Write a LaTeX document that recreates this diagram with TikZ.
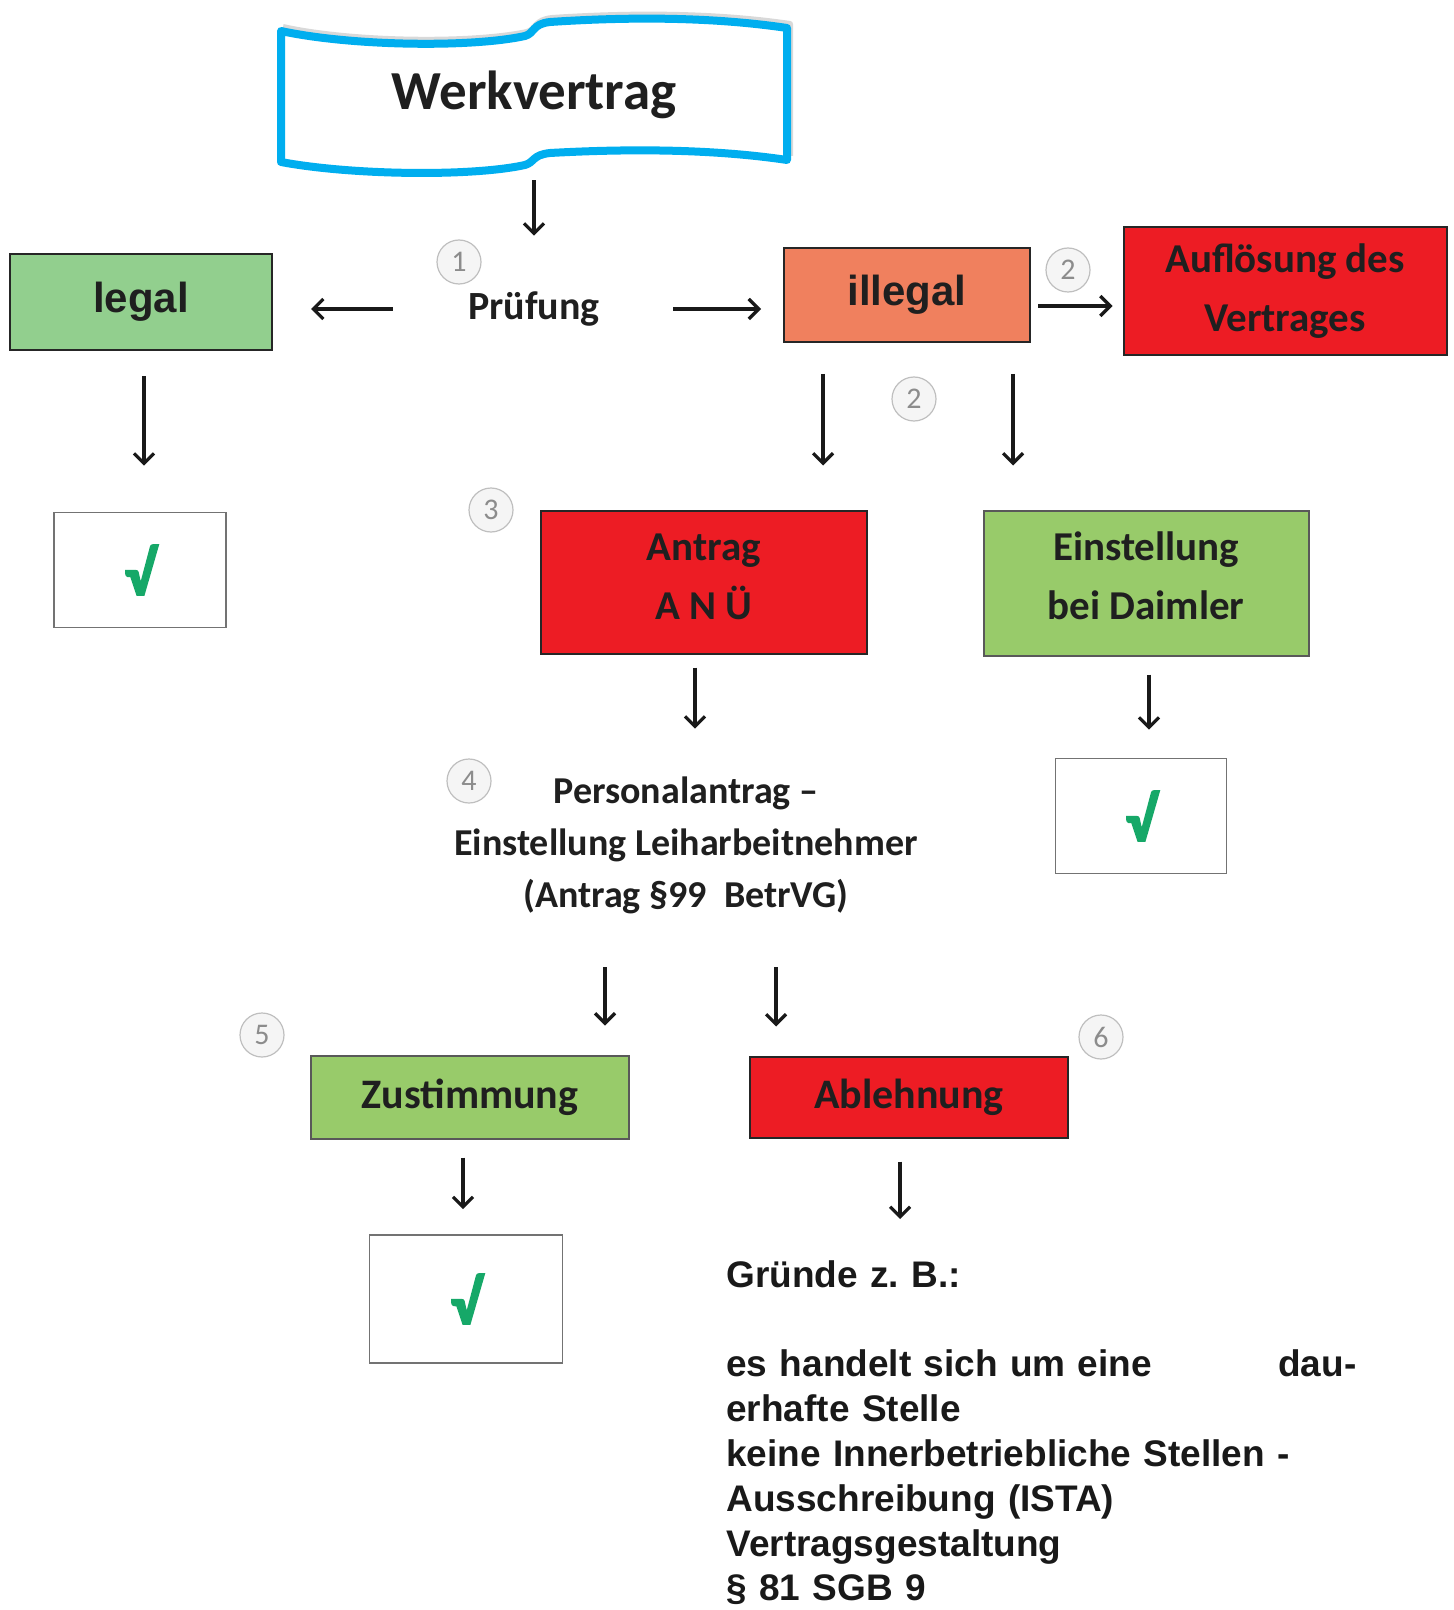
\documentclass[tikz,border=0pt]{standalone}
\usepackage{fontspec}
\setmainfont{Carlito}
\newfontfamily\arialfont{Liberation Sans}
\usepackage{tikz}
\usetikzlibrary{arrows,arrows.meta,calc,positioning}
\frenchspacing

\definecolor{werkblau}{RGB}{0,174,239}
\definecolor{hellgruen}{RGB}{146,207,142}
\definecolor{blattgruen}{RGB}{152,203,106}
\definecolor{lachs}{RGB}{240,128,94}
\definecolor{signalrot}{RGB}{237,28,36}
\definecolor{hakengruen}{RGB}{22,168,104}

\begin{document}
\begin{tikzpicture}[x=0.5pt, y=-0.5pt,
	kasten/.style={draw=black!85, line width=1pt, rectangle, inner sep=0pt, align=center, text=black!88},
	haken/.style={draw=black!55, line width=0.8pt, fill=white, inner sep=0pt, text=hakengruen, font=\bfseries\fontsize{31}{31}\selectfont\addfontfeature{FakeBold=3}},
	nummer/.style={circle, draw=black!25, fill=black!4, line width=0.6pt, minimum size=22pt, inner sep=0pt, text=black!45, font=\fontsize{15}{15}\selectfont},
	pfeil/.style={->, line width=1.6pt, black!90},
	>={Straight Barb[length=5pt,width=10pt]}]
	\useasboundingbox (0,0) rectangle (1454,1610);
	% Band
		\draw[black!15, line width=3pt, line join=round]
			(283,27) .. controls (350,42) and (470,44) .. (527,32)
			.. controls (537,29) and (534,20) .. (552,18)
			.. controls (642,12) and (722,14) .. (790,24) -- (790,156);
		\draw[werkblau, line width=4pt, line join=round, fill=white]
			(281,31) .. controls (350,46) and (470,48) .. (525,36)
			.. controls (535,33) and (532,24) .. (550,22)
			.. controls (640,16) and (720,18) .. (787,28)
			-- (787,160)
			.. controls (720,150) and (640,148) .. (550,153)
			.. controls (532,155) and (535,162) .. (525,165)
			.. controls (470,177) and (350,175) .. (281,162) -- cycle;
	% Knoten
		\node (werk) at (534,95) [minimum width=255pt, minimum height=70pt, text=black!88, font=\bfseries\fontsize{27.5}{27.5}\selectfont] {Werkvertrag};
		\node (pruef) at (534,309) [minimum width=90pt, minimum height=30pt, inner sep=0pt, text=black!88, font=\bfseries\fontsize{20}{20}\selectfont] {Prüfung};
		\node (legal) at (141,302) [kasten, fill=hellgruen, minimum width=131pt, minimum height=48pt, font=\arialfont\bfseries\fontsize{21}{21}\selectfont] {legal};
		\node (illegal) at (907,295) [kasten, fill=lachs, minimum width=123pt, minimum height=47pt, font=\arialfont\bfseries\fontsize{21}{21}\selectfont] {illegal};
		\node (aufl) at (1285,291) [kasten, fill=signalrot, minimum width=161.5pt, minimum height=64pt, font=\bfseries\fontsize{20.5}{29.5}\selectfont] {Auflösung des\\Vertrages};
		\node (ok1) at (140,570) [haken, minimum width=86pt, minimum height=57.5pt] {√};
		\node (antrag) at (704,582) [kasten, fill=signalrot, minimum width=163pt, minimum height=71.5pt, text depth=5pt, font=\bfseries\fontsize{20.5}{29.5}\selectfont] {Antrag\\A N Ü};
		\node (einst) at (1146,583) [kasten, draw=black!65, fill=blattgruen, minimum width=162.5pt, minimum height=72.5pt, text depth=7pt, font=\bfseries\fontsize{20.5}{29.5}\selectfont] {Einstellung\\bei Daimler};
		\node (ok2) at (1141,816) [haken, minimum width=85.5pt, minimum height=57.5pt] {√};
		\node (personal) at (686,845) [minimum width=240pt, minimum height=85pt, inner sep=0pt, align=center, text=black!88, font=\bfseries\fontsize{19}{26}\selectfont] {Personalantrag --\\Einstellung Leiharbeitnehmer\\(Antrag §99\ \ BetrVG)};
		\node (zust) at (470,1097) [kasten, draw=black!65, fill=blattgruen, minimum width=159pt, minimum height=41.5pt, font=\bfseries\fontsize{21}{21}\selectfont] {Zustimmung};
		\node (ableh) at (909,1097) [kasten, fill=signalrot, minimum width=159pt, minimum height=40.5pt, font=\bfseries\fontsize{21}{21}\selectfont] {Ablehnung};
		\node (ok3) at (466,1299) [haken, minimum width=96.5pt, minimum height=64pt] {√};
		\node (gruende) at (726,1260) [anchor=north west, text width=315pt, align=left, inner sep=0pt, text=black!90, font=\arialfont\bfseries\fontsize{18.5}{22.4}\selectfont] {Gründe z. B.:\\[22.4pt]
			es handelt sich um eine \hfill dau-\\
			erhafte Stelle\\
			keine Innerbetriebliche Stellen -\\
			Ausschreibung (ISTA)\\
			Vertragsgestaltung\\
			§ 81 SGB 9};
	% Nummern
		\node (n1) at (459,262) [nummer] {1};
		\node (n2a) at (1068,270) [nummer] {2};
		\node (n2b) at (914,399) [nummer] {2};
		\node (n3) at (491,510) [nummer] {3};
		\node (n4) at (469,781) [nummer] {4};
		\node (n5) at (262,1035) [nummer] {5};
		\node (n6) at (1101,1037) [nummer] {6};
	% Kanten
		\draw[pfeil, shorten <=7.5pt, shorten >=21.5pt] (werk.south) -- (pruef.north);
		\draw[pfeil, shorten <=25.5pt, shorten >=19pt] (pruef.west) -- (pruef.west -| legal.east);
		\draw[pfeil, shorten <=24.5pt, shorten >=11pt] (pruef.east) -- (pruef.east -| illegal.west);
		\draw[pfeil, shorten <=3.5pt, shorten >=5pt] ([yshift=-5.5pt]illegal.east) -- ([yshift=-5.5pt]illegal.east -| aufl.west);
		\draw[pfeil, shorten <=12.5pt, shorten >=23pt] ([xshift=1.5pt]legal.south) -- ([xshift=2pt]ok1.north);
		\draw[pfeil, shorten <=15.5pt, shorten >=22pt] ([xshift=-42pt]illegal.south) -- ([xshift=59.5pt]antrag.north);
		\draw[pfeil, shorten <=15.5pt, shorten >=22pt] ([xshift=53pt]illegal.south) -- ([xshift=-66.5pt]einst.north);
		\draw[pfeil, shorten <=6.5pt, shorten >=15.5pt] ([xshift=-4.5pt]antrag.south) -- ([xshift=4.5pt]personal.north);
		\draw[pfeil, shorten <=9pt, shorten >=14pt] ([xshift=1.5pt]einst.south) -- ([xshift=4pt]ok2.north);
		\draw[pfeil, shorten <=18.5pt, shorten >=14.5pt] ([xshift=-40.5pt]personal.south) -- ([xshift=67.5pt]zust.north);
		\draw[pfeil, shorten <=18.5pt, shorten >=14.5pt] ([xshift=45pt]personal.south) -- ([xshift=-66.5pt]ableh.north);
		\draw[pfeil, shorten <=9pt, shorten >=12.5pt] ([xshift=-3.5pt]zust.south) -- ([xshift=-1.5pt]ok3.north);
		\draw[pfeil, shorten <=11.5pt, shorten >=20.5pt] ([xshift=-4.5pt]ableh.south) -- ([xshift=-4.5pt]ableh.south |- gruende.north);
\end{tikzpicture}
\end{document}
